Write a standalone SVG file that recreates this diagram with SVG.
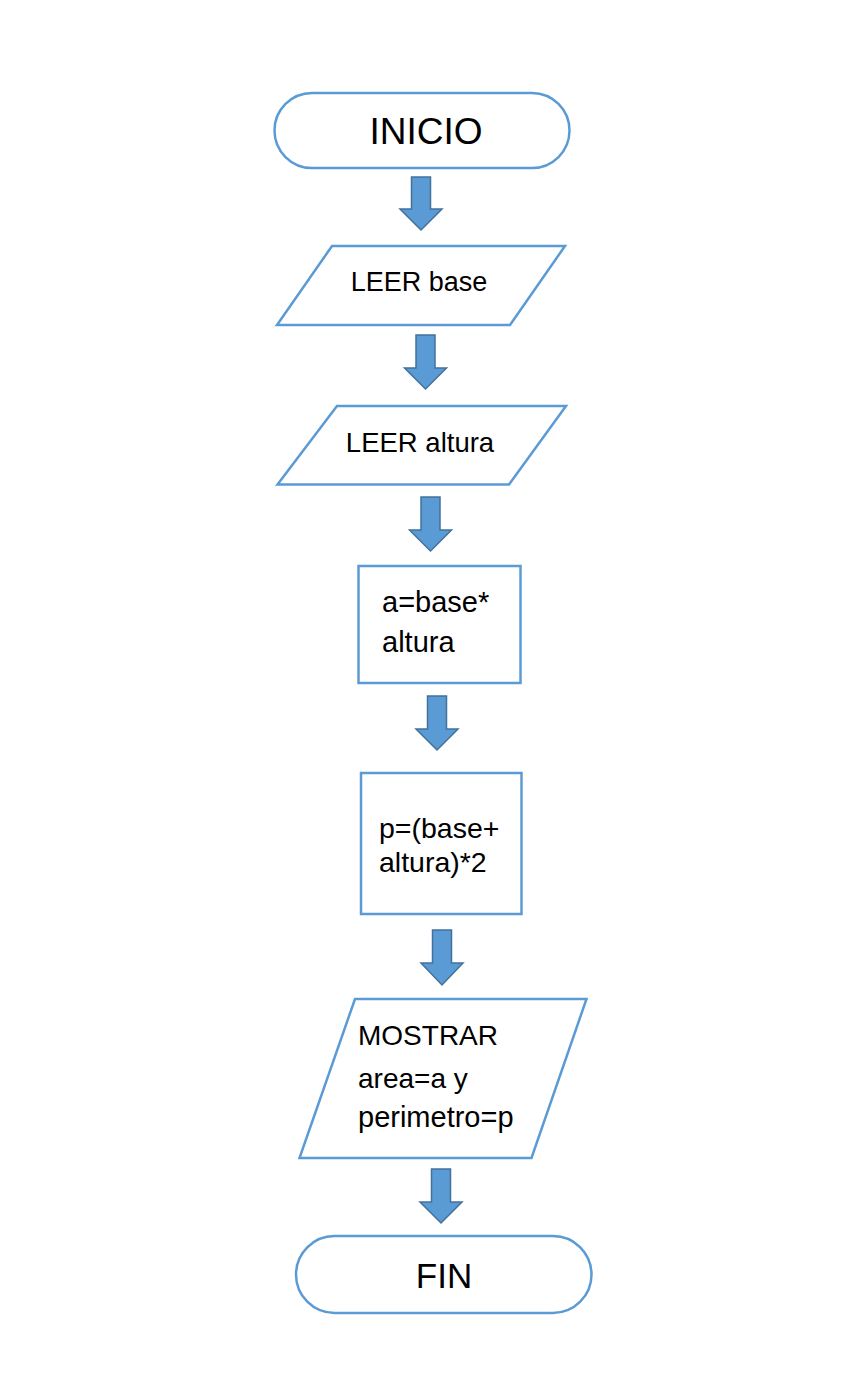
<svg xmlns="http://www.w3.org/2000/svg" width="842" height="1399" viewBox="0 0 842 1399">
<style>
.shape{fill:#ffffff;stroke:#5B9BD5;stroke-width:2.5}
.arrow{fill:#5B9BD5;stroke:#41719C;stroke-width:1.5;stroke-linejoin:miter}
.t{font-family:"Liberation Sans",Arial,sans-serif;fill:#000000}
</style>
<rect width="842" height="1399" fill="#ffffff"/>
<g id="connectors">
<path class="arrow" d="M411.5,177 H430.5 V209 H442 L421,230 L400,209 H411.5 Z"/>
<path class="arrow" d="M416,335 H435 V368 H446.5 L425.5,389 L404.5,368 H416 Z"/>
<path class="arrow" d="M421,497 H440 V530 H451.5 L430.5,551 L409.5,530 H421 Z"/>
<path class="arrow" d="M427.5,696 H446.5 V729 H458 L437,750 L416,729 H427.5 Z"/>
<path class="arrow" d="M432.5,930 H451.5 V963 H463 L442,985 L421,963 H432.5 Z"/>
<path class="arrow" d="M431.5,1169 H450.5 V1202 H462 L441,1223 L420,1202 H431.5 Z"/>
</g>
<g id="inicio">
<rect class="shape" x="274.5" y="93" width="295" height="75" rx="37.5" ry="37.5"/>
<text class="t" x="426" y="144" font-size="37" text-anchor="middle">INICIO</text>
</g>
<g id="leer-base">
<polygon class="shape" points="332,246 565,246 510,325 277,325"/>
<text class="t" x="419" y="291" font-size="27" text-anchor="middle">LEER base</text>
</g>
<g id="leer-altura">
<polygon class="shape" points="337,406 566,406 509,484.5 277.5,484.5"/>
<text class="t" x="420" y="452" font-size="27.5" text-anchor="middle">LEER altura</text>
</g>
<g id="calc-area">
<rect class="shape" x="358.5" y="566" width="162" height="117"/>
<text class="t" x="382" y="612" font-size="29">a=base*</text>
<text class="t" x="382" y="652" font-size="29">altura</text>
</g>
<g id="calc-perimetro">
<rect class="shape" x="361" y="773" width="160.5" height="141"/>
<text class="t" x="379" y="838" font-size="28.5">p=(base+</text>
<text class="t" x="379" y="872" font-size="28.5">altura)*2</text>
</g>
<g id="mostrar">
<polygon class="shape" points="355,999 586.5,999 531.5,1158 299.5,1158"/>
<text class="t" x="358" y="1045" font-size="28">MOSTRAR</text>
<text class="t" x="358" y="1088" font-size="28">area=a y</text>
<text class="t" x="358" y="1127" font-size="29">perimetro=p</text>
</g>
<g id="fin">
<rect class="shape" x="296" y="1236" width="295.5" height="77" rx="38.5" ry="38.5"/>
<text class="t" x="444" y="1288" font-size="35" text-anchor="middle">FIN</text>
</g>
</svg>
